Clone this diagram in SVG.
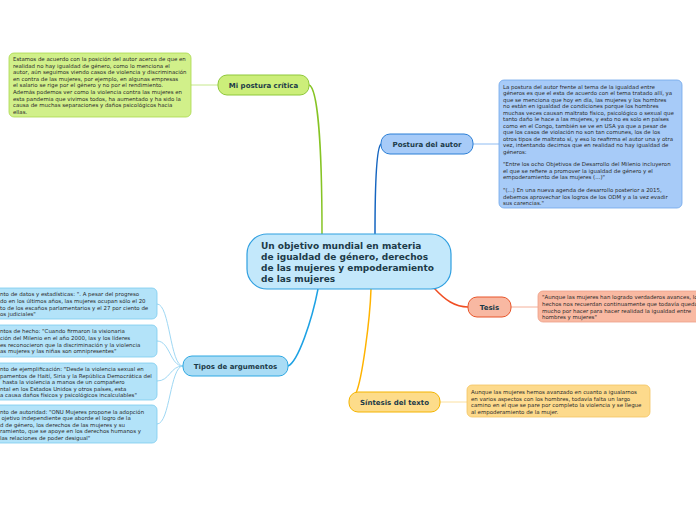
<svg xmlns="http://www.w3.org/2000/svg" width="696" height="520" viewBox="0 0 696 520">
<style>
.node text{font-family:"DejaVu Sans",Verdana,sans-serif;font-weight:bold;fill:#1c3a48}
.lbl{font-size:7px}
.ctr{font-size:9px}
.note text{font-family:"DejaVu Sans",Verdana,sans-serif;font-size:5.45px;fill:#2b2b2b}
.conn path{fill:none}
</style>
<rect width="696" height="520" fill="#ffffff"/>
<g id="connectors" class="conn">
<path d="M309,85 C318,88 322,150 322,234" stroke="#86c424" stroke-width="1.5"/>
<path d="M381,144 C376,148 375,190 375,234" stroke="#1565c0" stroke-width="1.5"/>
<path d="M288,366 C298,362 312,320 318,289" stroke="#1ea2e4" stroke-width="1.5"/>
<path d="M356,393 C362,380 370,320 371,289" stroke="#ffb300" stroke-width="1.5"/>
<path d="M434,288 C445,300 455,307 468,307" stroke="#f04e23" stroke-width="1.5"/>
<path d="M191,85 L218,85" stroke="#c6e88c" stroke-width="1"/>
<path d="M473,144 L499,144" stroke="#8fbcf2" stroke-width="1"/>
<path d="M511,307 L538,307" stroke="#f4b09a" stroke-width="1"/>
<path d="M440,402 L467,402" stroke="#fbe0a0" stroke-width="1"/>
<path d="M183,366 C170,366 170,304 157,304" stroke="#9fd8f4" stroke-width="1"/>
<path d="M183,366 C170,366 170,341 157,341" stroke="#9fd8f4" stroke-width="1"/>
<path d="M183,366 C170,366 170,381 157,381" stroke="#9fd8f4" stroke-width="1"/>
<path d="M183,366 C170,366 170,424 157,424" stroke="#9fd8f4" stroke-width="1"/>
</g>
<g id="central" class="node">
<rect x="247" y="234" width="204" height="55" rx="20" fill="#c3e8fb" stroke="#2f9fe0" stroke-width="1.2"/>
<text class="ctr" x="261" y="248.5">Un objetivo mundial en materia</text>
<text class="ctr" x="261" y="259.8">de igualdad de género, derechos</text>
<text class="ctr" x="261" y="271.1">de las mujeres y empoderamiento</text>
<text class="ctr" x="261" y="282.4">de las mujeres</text>
</g>
<g id="mi-postura" class="node">
<rect x="218" y="75" width="91" height="20" rx="9" fill="#ccee7a" stroke="#8fc83a" stroke-width="1"/>
<text class="lbl" x="263.5" y="87.5" text-anchor="middle">Mi postura crítica</text>
</g>
<g id="postura-autor" class="node">
<rect x="381" y="134" width="92" height="20" rx="9" fill="#a7cbf8" stroke="#2b7fd6" stroke-width="1"/>
<text class="lbl" x="427" y="146.5" text-anchor="middle">Postura del autor</text>
</g>
<g id="tesis" class="node">
<rect x="468" y="297" width="43" height="20" rx="9" fill="#f8b8a2" stroke="#e8552a" stroke-width="1"/>
<text class="lbl" x="489.5" y="309.5" text-anchor="middle">Tesis</text>
</g>
<g id="sintesis" class="node">
<rect x="349" y="392" width="91" height="20" rx="9" fill="#fddc8a" stroke="#f4b400" stroke-width="1"/>
<text class="lbl" x="394.5" y="404.5" text-anchor="middle">Síntesis del texto</text>
</g>
<g id="tipos" class="node">
<rect x="183" y="356" width="105" height="20" rx="9" fill="#a9dcf5" stroke="#2ea8e2" stroke-width="1"/>
<text class="lbl" x="235.5" y="368.5" text-anchor="middle">Tipos de argumentos</text>
</g>
<g id="note-critica" class="note">
<rect x="9" y="53" width="182" height="64" rx="5" fill="#d1f08a" stroke="#a9d84c" stroke-width="0.8"/>
<text x="13" y="61">Estamos de acuerdo con la posición del autor acerca de que en</text>
<text x="13" y="67.6">realidad no hay igualdad de género, como lo menciona el</text>
<text x="13" y="74.2">autor, aún seguimos viendo casos de violencia y discriminación</text>
<text x="13" y="80.8">en contra de las mujeres, por ejemplo, en algunas empresas</text>
<text x="13" y="87.4">el salario se rige por el género y no por el rendimiento.</text>
<text x="13" y="94">Además podemos ver como la violencia contra las mujeres en</text>
<text x="13" y="100.6">esta pandemia que vivimos todos, ha aumentado y ha sido la</text>
<text x="13" y="107.2">causa de muchas separaciones y daños psicológicos hacia</text>
<text x="13" y="113.8">ellas.</text>
</g>
<g id="note-autor" class="note">
<rect x="499" y="80" width="183" height="128" rx="5" fill="#a7cbf8" stroke="#6fa6ea" stroke-width="0.8"/>
<text x="503" y="89">La postura del autor frente al tema de la igualdad entre</text>
<text x="503" y="95.45">géneros es que el esta de acuerdo con el tema tratado allí, ya</text>
<text x="503" y="101.9">que se menciona que hoy en día, las mujeres y los hombres</text>
<text x="503" y="108.35">no están en igualdad de condiciones porque los hombres</text>
<text x="503" y="114.8">muchas veces causan maltrato físico, psicológico o sexual que</text>
<text x="503" y="121.25">tanto daño le hace a las mujeres, y esto no es solo en países</text>
<text x="503" y="127.7">como en el Congo, también se ve en USA ya que a pesar de</text>
<text x="503" y="134.15">que los casos de violación no son tan comunes, los de los</text>
<text x="503" y="140.6">otros tipos de maltrato sí, y eso lo reafirma el autor una y otra</text>
<text x="503" y="147.05">vez, intentando decirnos que en realidad no hay igualdad de</text>
<text x="503" y="153.5">géneros:</text>
<text x="503" y="166.4">"Entre los ocho Objetivos de Desarrollo del Milenio incluyeron</text>
<text x="503" y="172.85">el que se refiere a promover la igualdad de género y el</text>
<text x="503" y="179.3">empoderamiento de las mujeres (...)"</text>
<text x="503" y="192.2">"(...) En una nueva agenda de desarrollo posterior a 2015,</text>
<text x="503" y="198.65">debemos aprovechar los logros de los ODM y a la vez evadir</text>
<text x="503" y="205.1">sus carencias."</text>
</g>
<g id="note-tesis" class="note">
<rect x="538" y="291" width="170" height="31" rx="5" fill="#f9b9a2" stroke="#eda088" stroke-width="0.8"/>
<text x="542" y="299">"Aunque las mujeres han logrado verdaderos avances, los</text>
<text x="542" y="305.8">hechos nos recuerdan continuamente que todavía queda</text>
<text x="542" y="312.6">mucho por hacer para hacer realidad la igualdad entre</text>
<text x="542" y="319.4">hombres y mujeres"</text>
</g>
<g id="note-sintesis" class="note">
<rect x="467" y="385" width="183" height="32" rx="5" fill="#fdda8c" stroke="#f3c462" stroke-width="0.8"/>
<text x="471" y="394">Aunque las mujeres hemos avanzado en cuanto a igualarnos</text>
<text x="471" y="400.6">en varios aspectos con los hombres, todavía falta un largo</text>
<text x="471" y="407.2">camino en el que se pare por completo la violencia y se llegue</text>
<text x="471" y="413.8">al empoderamiento de la mujer.</text>
</g>
<g id="note-datos" class="note">
<rect x="-30" y="288" width="187" height="31" rx="5" fill="#b3e3f9" stroke="#7ccbef" stroke-width="0.8"/>
<text x="0" y="296">nto de datos y estadísticas: ". A pesar del progreso</text>
<text x="0" y="302.8">do en los últimos años, las mujeres ocupan sólo el 20</text>
<text x="0" y="309.6">to de los escaños parlamentarios y el 27 por ciento de</text>
<text x="0" y="316.4">os judiciales"</text>
</g>
<g id="note-hecho" class="note">
<rect x="-30" y="325" width="187" height="32" rx="5" fill="#b3e3f9" stroke="#7ccbef" stroke-width="0.8"/>
<text x="0" y="333">ntos de hecho: "Cuando firmaron la visionaria</text>
<text x="0" y="339.8">ción del Milenio en el año 2000, las y los líderes</text>
<text x="0" y="346.6">es reconocieron que la discriminación y la violencia</text>
<text x="0" y="353.4">as mujeres y las niñas son omnipresentes"</text>
</g>
<g id="note-ejemplo" class="note">
<rect x="-30" y="363" width="187" height="37" rx="5" fill="#b3e3f9" stroke="#7ccbef" stroke-width="0.8"/>
<text x="0" y="371">nto de ejemplificación: "Desde la violencia sexual en</text>
<text x="0" y="377.6">pamentos de Haití, Siria y la República Democrática del</text>
<text x="2.5" y="384.2">hasta la violencia a manos de un compañero</text>
<text x="0" y="390.8">ntal en los Estados Unidos y otros países, esta</text>
<text x="0" y="397.4">a causa daños físicos y psicológicos incalculables"</text>
</g>
<g id="note-autoridad" class="note">
<rect x="-30" y="405" width="187" height="38" rx="5" fill="#b3e3f9" stroke="#7ccbef" stroke-width="0.8"/>
<text x="0" y="413.5">nto de autoridad: "ONU Mujeres propone la adopción</text>
<text x="1.5" y="420.1">ojetivo independiente que aborde el logro de la</text>
<text x="0" y="426.7">d de género, los derechos de las mujeres y su</text>
<text x="0" y="433.3">ramiento, que se apoye en los derechos humanos y</text>
<text x="0" y="439.9">las relaciones de poder desigual"</text>
</g>
</svg>
